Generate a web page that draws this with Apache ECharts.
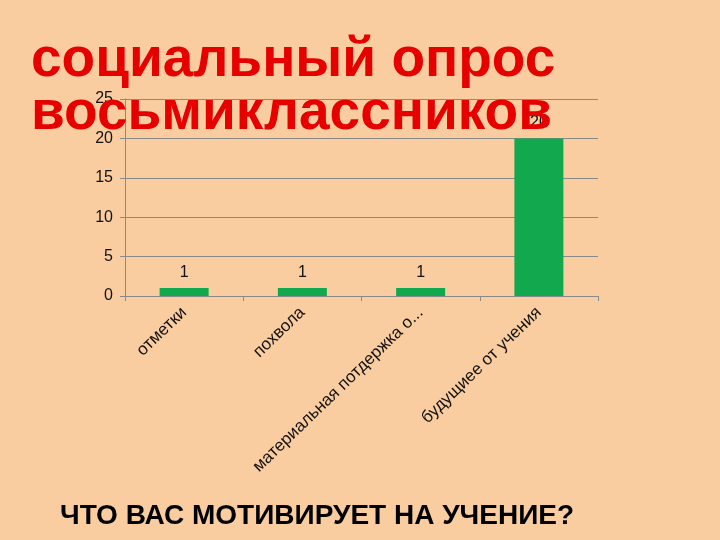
<!DOCTYPE html>
<html>
<head>
<meta charset="utf-8">
<script src="https://cdn.jsdelivr.net/npm/echarts@6/dist/echarts.min.js"></script>
<style>
  html, body { margin: 0; padding: 0; background: #FACDA0; }
  #chart { width: 720px; height: 540px; }
</style>
</head>
<body>
<div id="chart"></div>
<script>
// категории и значения
var categories = ['отметки', 'похвола', 'материальная потдержка о...', 'будущиее от учения'];
var values = [1, 1, 1, 20];
var yTicks = [0, 5, 10, 15, 20, 25];

var titleLines = ['социальный опрос', 'восьмиклассников'];
var subText = 'ЧТО ВАС МОТИВИРУЕТ НА УЧЕНИЕ?';

// строки заголовка стоят плотнее обычного межстрочного
function titleLine(text, y) {
  return {
    type: 'text',
    x: 31,
    y: y,
    z: 100,
    style: {
      text: text,
      x: 0,
      y: 0,
      textVerticalAlign: 'top',
      font: 'bold 55px "Liberation Sans", Arial, sans-serif',
      fill: '#E60000'
    }
  };
}

var myChart = echarts.init(document.getElementById('chart'));
myChart.setOption({
  backgroundColor: '#FACDA0',
  animation: false,
  title: {
    text: subText,
    left: 55,
    top: 497,
    textStyle: {
      fontFamily: 'Liberation Sans',
      fontSize: 28,
      fontWeight: 'bold',
      color: '#000'
    }
  },
  graphic: [
    titleLine(titleLines[0], 33),
    titleLine(titleLines[1], 86)
  ],
  grid: {
    left: 125,
    right: 122,
    top: 99,
    bottom: 244
  },
  xAxis: {
    type: 'category',
    data: categories,
    axisLine: { lineStyle: { color: '#8a8a8a' } },
    axisTick: { show: true, length: 5, lineStyle: { color: '#8a8a8a' } },
    axisLabel: {
      rotate: 44,
      margin: 14,
      interval: 0,
      fontFamily: 'Liberation Sans',
      fontSize: 17,
      color: '#111'
    }
  },
  yAxis: {
    type: 'value',
    min: yTicks[0],
    max: yTicks[yTicks.length - 1],
    interval: 5,
    axisLine: { show: true, lineStyle: { color: '#8a8a8a' } },
    axisTick: { show: true, length: 5, lineStyle: { color: '#8a8a8a' } },
    splitLine: { lineStyle: { color: '#8a8a8a' } },
    axisLabel: {
      margin: 12,
      fontFamily: 'Liberation Sans',
      fontSize: 16,
      color: '#111'
    }
  },
  series: [
    {
      type: 'bar',
      data: values,
      barWidth: 49,
      itemStyle: { color: '#12A84E' },
      label: {
        show: true,
        position: 'top',
        distance: 8,
        fontFamily: 'Liberation Sans',
        fontSize: 16,
        color: '#111'
      }
    }
  ]
});
</script>
</body>
</html>
